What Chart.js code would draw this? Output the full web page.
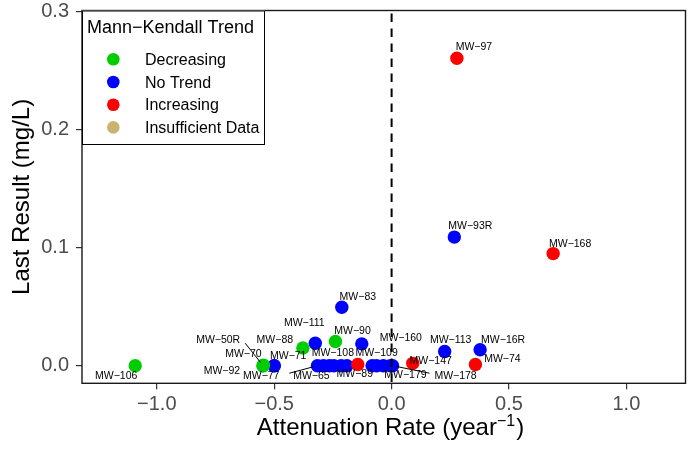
<!DOCTYPE html>
<html>
<head>
<meta charset="utf-8">
<script src="https://cdn.jsdelivr.net/npm/chart.js@4.4.1/dist/chart.umd.min.js"></script>
<style>
  html, body { margin: 0; padding: 0; background: #ffffff; }
  #wrap { width: 696px; height: 457px; }
</style>
</head>
<body>
<div id="wrap"><canvas id="c" width="696" height="457"></canvas></div>
<script>
// Monitoring wells: attenuation rate (1/yr) vs. most recent concentration (mg/L)
const wells = [
  'MW−97', 'MW−93R', 'MW−168', 'MW−83', 'MW−111', 'MW−88', 'MW−90', 'MW−160',
  'MW−92', 'MW−70', 'MW−50R', 'MW−77', 'MW−71', 'MW−106',
  'MW−65', '', 'MW−108', '', '', '', 'MW−89',
  '', 'MW−109', '', 'MW−179', 'MW−178',
  'MW−147', 'MW−113', 'MW−16R', 'MW−74'
];
const rates = [
  0.278, 0.267, 0.688, -0.212, -0.325, -0.378, -0.239, -0.127,
  -0.548, -0.546, -0.547, -0.500, -0.500, -1.092,
  -0.316, -0.290, -0.246, -0.265, -0.215, -0.190, -0.144,
  -0.083, -0.064, -0.035, -0.005, 0.004,
  0.090, 0.226, 0.377, 0.357
];
const lastResults = [
  0.2605, 0.109, 0.095, 0.0495, 0.019, 0.015, 0.0205, 0.0185,
  0.000, 0.0005, 0.000, 0.000, 0.000, 0.000,
  0.000, 0.000, 0.000, 0.000, 0.000, 0.000, 0.001,
  0.000, 0.000, 0.000, 0.000, 0.000,
  0.002, 0.012, 0.0135, 0.001
];
const trends = [
  'Increasing', 'No Trend', 'Increasing', 'No Trend', 'No Trend', 'Decreasing', 'Decreasing', 'No Trend',
  'Decreasing', 'Decreasing', 'Decreasing', 'No Trend', 'No Trend', 'Decreasing',
  'No Trend', 'No Trend', 'No Trend', 'No Trend', 'No Trend', 'No Trend', 'Increasing',
  'No Trend', 'No Trend', 'No Trend', 'No Trend', 'No Trend',
  'Increasing', 'No Trend', 'No Trend', 'Increasing'
];
const trendNames = ['Decreasing', 'No Trend', 'Increasing', 'Insufficient Data'];
const xTicks = [-1.0, -0.5, 0.0, 0.5, 1.0];
const yTicks = [0.0, 0.1, 0.2, 0.3];

// styling
const trendColors = ['#00CD00', '#0000FF', '#FF0000', '#C8B46E'];
const FONT = '"Liberation Sans", Arial, Helvetica, sans-serif';

// label placement (pixel offsets of each label from its point; optional leader line start)
const labelPlacement = {
  'MW−97':  { dx: 17,  dy: -11 },
  'MW−93R': { dx: 16,  dy: -11 },
  'MW−168': { dx: 17,  dy: -9.5 },
  'MW−83':  { dx: 16,  dy: -10.5 },
  'MW−111': { dx: -11, dy: -20 },
  'MW−88':  { dx: -28, dy: -8 },
  'MW−90':  { dx: 17,  dy: -10.5 },
  'MW−160': { dx: 39,  dy: -6 },
  'MW−92':  { dx: -41, dy: 5.5 },
  'MW−70':  { dx: -20, dy: -11 },
  'MW−50R': { dx: -45, dy: -25.5, seg: [-18, -22.5] },
  'MW−77':  { dx: -13, dy: 10.5 },
  'MW−71':  { dx: 14,  dy: -10 },
  'MW−106': { dx: -19, dy: 10.5 },
  'MW−65':  { dx: -6,  dy: 10.5, seg: [-28, 7.5] },
  'MW−108': { dx: -1,  dy: -12.5 },
  'MW−89':  { dx: -3,  dy: 9.5 },
  'MW−109': { dx: 0,   dy: -12.5 },
  'MW−179': { dx: 15,  dy: 9.5 },
  'MW−178': { dx: 63,  dy: 10, seg: [37, 7.5] },
  'MW−147': { dx: 18,  dy: -2.5 },
  'MW−113': { dx: 6,   dy: -11.5 },
  'MW−16R': { dx: 23,  dy: -10 },
  'MW−74':  { dx: 27,  dy: -5.5 }
};

const points = wells.map((w, i) => ({ x: rates[i], y: lastResults[i], name: w, trend: trends[i] }));

const datasets = trendNames.map((t, ti) => ({
  label: t,
  data: points.filter(p => p.trend === t),
  backgroundColor: trendColors[ti],
  borderWidth: 0,
  pointRadius: 6.7,
  pointHoverRadius: 6.7,
  order: t === 'No Trend' ? 2 : 1
}));

const fmt = v => v.toFixed(1).replace('-', '−');

const decor = {
  id: 'decor',
  afterDatasetsDraw(chart) {
    const { ctx, chartArea: a, scales: { x } } = chart;
    // zero-rate reference line
    ctx.save();
    ctx.beginPath();
    ctx.rect(a.left, a.top, a.right - a.left, a.bottom - a.top);
    ctx.clip();
    ctx.setLineDash([8.5, 6.5]);
    ctx.lineDashOffset = -3;
    ctx.strokeStyle = '#000000';
    ctx.lineWidth = 2;
    const x0 = x.getPixelForValue(0);
    ctx.beginPath();
    ctx.moveTo(x0, a.top);
    ctx.lineTo(x0, a.bottom);
    ctx.stroke();
    ctx.restore();

    // well labels with leader lines
    ctx.save();
    ctx.font = '10.5px ' + FONT;
    ctx.fillStyle = '#000000';
    ctx.textAlign = 'center';
    ctx.textBaseline = 'middle';
    chart.data.datasets.forEach((ds, di) => {
      const meta = chart.getDatasetMeta(di);
      meta.data.forEach((el, j) => {
        const name = ds.data[j].name;
        const place = labelPlacement[name];
        if (!place) return;
        if (place.seg) {
          const sx = el.x + place.seg[0], sy = el.y + place.seg[1];
          const vx = el.x - sx, vy = el.y - sy;
          const len = Math.hypot(vx, vy);
          const ex = el.x - vx / len * 4, ey = el.y - vy / len * 4;
          ctx.strokeStyle = '#000000';
          ctx.lineWidth = 1;
          ctx.beginPath();
          ctx.moveTo(sx, sy);
          ctx.lineTo(ex, ey);
          ctx.stroke();
        }
        ctx.fillText(name, el.x + place.dx, el.y + place.dy);
      });
    });
    ctx.restore();
  },
  afterDraw(chart) {
    const { ctx, chartArea: a } = chart;
    ctx.save();
    // panel frame
    ctx.strokeStyle = '#1a1a1a';
    ctx.lineWidth = 1.4;
    ctx.strokeRect(a.left, a.top, a.right - a.left, a.bottom - a.top);

    // x-axis title with superscript
    ctx.fillStyle = '#000000';
    ctx.textBaseline = 'alphabetic';
    ctx.textAlign = 'left';
    const main = '24px ' + FONT, sup = '16px ' + FONT;
    const p1 = 'Attenuation Rate (year', p2 = '−1', p3 = ')';
    ctx.font = main; const w1 = ctx.measureText(p1).width; const w3 = ctx.measureText(p3).width;
    ctx.font = sup; const w2 = ctx.measureText(p2).width;
    const total = w1 + w2 + w3 + 1;
    let tx = 390.5 - total / 2;
    const base = 435;
    ctx.font = main; ctx.fillText(p1, tx, base); tx += w1;
    ctx.font = sup; ctx.fillText(p2, tx, base - 9); tx += w2 + 1;
    ctx.font = main; ctx.fillText(p3, tx, base);

    // y-axis title
    ctx.save();
    ctx.translate(28.5, (a.top + a.bottom) / 2);
    ctx.rotate(-Math.PI / 2);
    ctx.textAlign = 'center';
    ctx.font = main;
    ctx.fillText('Last Result (mg/L)', 0, 0);
    ctx.restore();

    // legend
    const lx = a.left, ly = a.top, lw = 265 - a.left, lh = 145 - a.top;
    ctx.fillStyle = '#ffffff';
    ctx.fillRect(lx, ly, lw, lh);
    ctx.strokeStyle = '#000000';
    ctx.lineWidth = 1;
    ctx.strokeRect(lx + 0.5, ly + 0.5, lw - 1, lh - 1);
    ctx.fillStyle = '#000000';
    ctx.textAlign = 'left';
    ctx.font = '18px ' + FONT;
    ctx.fillText('Mann−Kendall Trend', 87, 33.3);
    ctx.font = '16px ' + FONT;
    chart.data.datasets.forEach((ds, i) => {
      const cy = 59.3 + i * 22.7;
      ctx.fillStyle = ds.backgroundColor;
      ctx.beginPath();
      ctx.arc(113.3, cy, 6.3, 0, Math.PI * 2);
      ctx.fill();
      ctx.fillStyle = '#000000';
      ctx.fillText(ds.label, 145, cy + 5.5);
    });
    ctx.restore();
  }
};

new Chart(document.getElementById('c'), {
  type: 'scatter',
  data: { datasets },
  options: {
    responsive: false,
    animation: false,
    devicePixelRatio: 1,
    layout: { padding: { left: 0, right: 10.5, top: 10.5, bottom: 0 } },
    plugins: { legend: { display: false }, tooltip: { enabled: false } },
    scales: {
      x: {
        type: 'linear',
        min: -1.3186,
        max: 1.2517,
        afterFit(s) { s.height = 73.7; s.paddingLeft = 0; s.paddingRight = 0; },
        afterBuildTicks(s) { s.ticks = xTicks.map(v => ({ value: v })); },
        grid: { display: true, drawOnChartArea: false, drawTicks: true, tickLength: 6, color: '#333333', lineWidth: 1.2 },
        border: { display: false },
        ticks: {
          padding: 3,
          color: '#4d4d4d',
          font: { family: FONT, size: 20 },
          maxRotation: 0,
          callback: v => fmt(v)
        }
      },
      y: {
        type: 'linear',
        min: -0.01492,
        max: 0.30102,
        afterFit(s) { s.width = 82; s.paddingTop = 0; s.paddingBottom = 0; },
        afterBuildTicks(s) { s.ticks = yTicks.map(v => ({ value: v })); },
        grid: { display: true, drawOnChartArea: false, drawTicks: true, tickLength: 6, color: '#333333', lineWidth: 1.2 },
        border: { display: false },
        ticks: {
          padding: 7,
          color: '#4d4d4d',
          font: { family: FONT, size: 20 },
          callback: v => fmt(v)
        }
      }
    }
  },
  plugins: [decor]
});
</script>
</body>
</html>
